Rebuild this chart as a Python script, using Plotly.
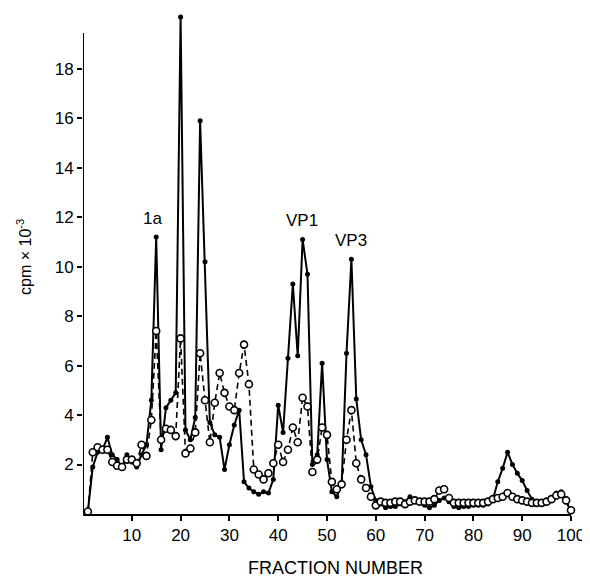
import plotly.graph_objects as go

fractions = list(range(1, 101))

filled_cpm = [
    0.1, 1.9, 2.5, 2.6, 3.1, 2.4, 2.2, 1.9, 2.4, 2.1,
    1.9, 2.4, 2.8, 4.6, 11.2, 2.6, 4.3, 4.6, 4.9, 20.1,
    3.4, 3.0, 3.9, 15.9, 10.2, 3.7, 3.2, 3.1, 1.8, 2.8,
    3.6, 4.2, 1.3, 1.05, 0.9, 0.8, 0.9, 0.85, 1.4, 4.4,
    3.3, 6.3, 9.3, 6.4, 11.1, 9.7, 2.0, 2.4, 6.1, 2.2,
    0.9, 0.7, 1.2, 6.5, 10.3, 4.65, 3.0, 2.4, 1.1, 0.55,
    0.4, 0.25, 0.3, 0.3, 0.4, 0.5, 0.7, 0.6, 0.45, 0.35,
    0.25, 0.35, 0.55, 0.65, 0.5, 0.3, 0.25, 0.3, 0.3, 0.35,
    0.35, 0.35, 0.4, 0.6, 1.3, 1.85, 2.5, 2.0, 1.65, 1.35,
    0.95, 0.6, 0.45, 0.4, 0.45, 0.55, 0.85, 0.9, 0.5, 0.1,
]

open_cpm = [
    0.1, 2.5, 2.7, 2.6, 2.6, 2.1, 1.95, 1.9, 2.2, 2.2,
    2.05, 2.8, 2.35, 3.8, 7.4, 3.0, 3.45, 3.4, 3.15, 7.1,
    2.45, 2.65, 3.3, 6.5, 4.6, 2.9, 4.5, 5.7, 4.9, 4.35,
    4.2, 5.7, 6.85, 5.25, 1.8, 1.6, 1.4, 1.65, 2.05, 2.8,
    2.1, 2.6, 3.5, 2.9, 4.7, 4.35, 1.7, 2.2, 3.5, 3.2,
    1.3, 1.0, 1.2, 3.0, 4.2, 2.05, 1.4, 1.05, 0.7, 0.35,
    0.5, 0.45, 0.45, 0.5, 0.5, 0.4, 0.5, 0.55, 0.5, 0.5,
    0.5, 0.6, 0.95, 1.0, 0.65, 0.45, 0.45, 0.45, 0.45, 0.45,
    0.45, 0.45, 0.5, 0.6, 0.65, 0.7, 0.85, 0.7, 0.6, 0.55,
    0.5, 0.45, 0.45, 0.45, 0.5, 0.6, 0.75, 0.8, 0.55, 0.15,
]

x_ticks = [10, 20, 30, 40, 50, 60, 70, 80, 90, 100]
y_ticks = [2, 4, 6, 8, 10, 12, 14, 16, 18]

peak_labels = ["1a", "VP1", "VP3"]
peak_x = [14.3, 44.9, 55.0]
peak_y = [11.95, 11.85, 11.05]

FONT = "Liberation Sans, Arial, Helvetica, sans-serif"

fig = go.Figure()

fig.add_trace(go.Scatter(
    x=fractions, y=filled_cpm, mode="lines+markers",
    line=dict(color="black", width=2),
    marker=dict(symbol="circle", size=5, color="black"),
    cliponaxis=False, showlegend=False,
))

fig.add_trace(go.Scatter(
    x=fractions, y=open_cpm, mode="lines+markers",
    line=dict(color="black", width=1.6, dash="6px,4px"),
    marker=dict(symbol="circle", size=7, color="white",
                line=dict(color="black", width=1.6)),
    cliponaxis=False, showlegend=False,
))

# y axis line (stops below the top of the plot area, as in the original)
fig.add_shape(type="line", xref="x", yref="y", x0=0, x1=0, y0=0, y1=19.45,
              line=dict(color="black", width=2))

for t, xv, yv in zip(peak_labels, peak_x, peak_y):
    fig.add_annotation(x=xv, y=yv, text=t, showarrow=False,
                       font=dict(family=FONT, size=17, color="black"),
                       xanchor="center", yanchor="middle")

fig.add_annotation(xref="paper", yref="paper", x=0.518, y=-0.108,
                   text="FRACTION NUMBER", showarrow=False,
                   font=dict(family=FONT, size=18, color="black"),
                   xanchor="center", yanchor="middle")

fig.add_annotation(xref="paper", yref="paper", x=-0.121, y=0.512,
                   text="cpm × 10<sup>-3</sup>", showarrow=False, textangle=-90,
                   font=dict(family=FONT, size=16, color="black"),
                   xanchor="center", yanchor="middle")

fig.update_xaxes(range=[0, 100], tickvals=x_ticks, ticktext=[str(v) for v in x_ticks],
                 automargin=False,
                 showline=True, linecolor="black", linewidth=2,
                 ticks="outside", ticklen=5, tickwidth=1.5, tickcolor="black",
                 showgrid=False, zeroline=False,
                 tickfont=dict(family=FONT, size=17, color="black"))
fig.update_yaxes(range=[0, 20.3], tickvals=y_ticks, ticktext=[str(v) for v in y_ticks],
                 automargin=False, showline=False,
                 ticks="outside", ticklen=5, tickwidth=1.5, tickcolor="black",
                 showgrid=False, zeroline=False,
                 tickfont=dict(family=FONT, size=17, color="black"))

# the page body adds an 8px margin, so the figure is sized/offset to compensate
fig.update_layout(width=582, height=572, template="none",
                  margin=dict(l=75, r=19, t=4, b=66),
                  paper_bgcolor="white", plot_bgcolor="white")

fig.write_html("out.html")
